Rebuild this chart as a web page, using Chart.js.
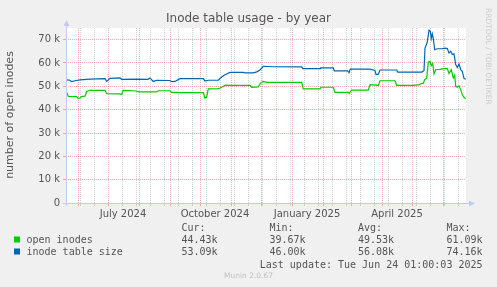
<!DOCTYPE html>
<html>
<head>
<meta charset="utf-8">
<title>Inode table usage - by year</title>
<script src="https://cdn.jsdelivr.net/npm/chart.js@4"></script>
<style>
body{margin:0;background:#f0f0f0}
canvas{display:block}
</style>
</head>
<body>
<canvas id="myChart" width="497" height="287"></canvas>
<script>
// days counted from May 20 2024 01:00, values in thousands
var openDays=[0.7,2.3,10.7,12.3,14,15.7,19,20.7,24,39,40.7,54,55.7,57.3,70.7,72.3,90.7,92.3,104,105.7,110.7,112.3,137.3,139,140.7,142.3,152.3,154,157.3,159.7,164,184,185.7,192.3,194.7,197.3,200.7,235.7,237.3,254,255,267.3,269,282.3,283.3,284.7,285.7,302.3,304,310.7,312.3,314,329,330.7,346.3,353,354.7,357.3,358.7,360.7,362.3,364,365.3,366.7,368,369.7,374,378,381.3,383,385.3,387.3,388.7,389.7,391.3,393,394.7,396.3,398,399.7]
var openValues=[47.4,45.7,45.6,44.8,45.0,45.7,45.8,47.8,48.3,48.3,46.9,46.8,46.5,48.3,48.0,47.6,47.6,48.1,48.1,47.4,47.4,47.3,47.3,44.9,45.5,48.9,49.0,49.3,50.0,50.5,50.4,50.4,49.6,49.8,51.5,52.1,51.7,51.7,48.9,48.9,49.6,49.6,47.4,47.4,46.9,48.0,48.4,48.4,50.7,50.5,50.3,52.4,52.4,50.4,50.4,50.6,51.1,51.3,52.9,53.5,60.4,60.6,58.9,59.8,55.3,57.1,57.3,57.6,57.6,55.5,57.1,53.6,54.8,50.0,49.6,50.2,48.6,46.4,45.3,44.6]

var sizeDays=[0.7,4,5.7,9,14,24,39,40.7,44,54,55.7,70.7,82,84,87.3,90.7,104,105.7,109,114,137.3,139,142.3,152.3,155.7,159,164,177.3,179,187.3,190.7,194,197.3,207.3,235.7,236.7,254,254.7,267.3,268.3,281.7,283,284.3,304,309,310,312.3,314,330.7,331.7,355.7,356.3,358,359,361.3,363,364.3,365.3,366.3,367.3,368.7,371.3,376.3,379.7,381.3,383,384.7,386.3,388,389.7,391.3,393,394.7,396.3,398,399.7]
var sizeValues=[52.8,52.6,52.0,52.4,52.8,53.1,53.3,52.1,53.4,53.6,53.0,53.1,53.0,53.6,52.1,52.6,52.5,52.0,52.1,53.3,53.3,52.3,52.6,52.7,54.0,55.0,56.0,56.0,55.8,55.8,56.2,57.0,58.6,58.4,58.3,57.6,57.6,57.9,57.9,56.6,56.6,55.8,57.4,57.4,56.8,55.0,55.2,57.0,57.0,56.1,56.1,56.2,56.8,66.4,69.0,74.1,73.6,70.5,72.5,70.5,65.7,66.1,66.2,66.4,66.2,64.3,65.0,63.6,63.9,59.3,58.1,59.6,57.1,56.4,53.3,53.1]

var monthStarts=[12,42,73,104,134,165,195,226,257,285,316,346,377]
var labelDays=[57,149,241,331]
var monthLabels=['July 2024','October 2024','January 2025','April 2025']

var seriesNames=['open inodes','inode table size']
var seriesColors=['#00cc00','#0066b3']
var statHeads=['Cur:','Min:','Avg:','Max:']
var openStats=['44.43k','39.67k','49.53k','61.09k']
var sizeStats=['53.09k','46.00k','56.08k','74.16k']
var lastUpdate='Last update: Tue Jun 24 01:00:03 2025'

var majorGrid='rgba(230,110,110,0.55)'
var minorGrid='rgba(190,190,190,0.7)'
var axisColor='#c4c9f2'

function points(days,vals){
  return days.map((d,i)=>({x:d,y:vals[i]*1000}))
}

var decorations={
  id:'decorations',
  beforeDraw(chart){
    var c=chart.ctx, a=chart.chartArea
    c.save()
    c.fillStyle='#ffffff'
    c.fillRect(a.left,a.top,a.right-a.left,a.bottom-a.top)
    c.restore()
  },
  afterDraw(chart){
    var c=chart.ctx, a=chart.chartArea
    c.save()
    // axes with arrows
    c.strokeStyle=axisColor
    c.fillStyle=axisColor
    c.lineWidth=1
    c.beginPath()
    c.moveTo(63,a.bottom+0.5); c.lineTo(470,a.bottom+0.5)
    c.moveTo(a.left+0.5,a.bottom+3); c.lineTo(a.left+0.5,25)
    c.stroke()
    c.beginPath()
    c.moveTo(469,a.bottom-2.5); c.lineTo(475,a.bottom+0.5); c.lineTo(469,a.bottom+3.5); c.fill()
    c.beginPath()
    c.moveTo(a.left-2.5,26); c.lineTo(a.left+0.5,20); c.lineTo(a.left+3.5,26); c.fill()

    c.fillStyle='#555'
    c.font='12px "DejaVu Sans"'
    c.textAlign='center'
    c.textBaseline='middle'
    c.fillText('Inode table usage - by year',248.5,19)

    c.save()
    c.translate(10,115)
    c.rotate(-Math.PI/2)
    c.font='11px "DejaVu Sans"'
    c.fillText('number of open inodes',0,0)
    c.restore()

    c.save()
    c.translate(488,8)
    c.rotate(Math.PI/2)
    c.textAlign='left'
    c.fillStyle='#cccccc'
    c.font='7.5px "DejaVu Sans"'
    c.fillText('RRDTOOL / TOBI OETIKER',0,0)
    c.restore()

    // legend and stats
    c.font='10px "DejaVu Sans Mono"'
    c.textAlign='left'
    c.textBaseline='alphabetic'
    var cols=[181.5,269.5,358,446.5]
    statHeads.forEach((h,i)=>c.fillText(h,cols[i],231))
    var rows=[openStats,sizeStats]
    rows.forEach((r,j)=>{
      var y=243+j*12
      c.fillStyle=seriesColors[j]
      c.fillRect(14,y-6.5,6,6)
      c.fillStyle='#555'
      c.fillText(seriesNames[j],26.5,y)
      r.forEach((v,i)=>c.fillText(v,cols[i],y))
    })
    c.textAlign='right'
    c.fillText(lastUpdate,482.5,267.5)

    c.textAlign='center'
    c.fillStyle='#c0c0c0'
    c.font='7.5px "DejaVu Sans"'
    c.fillText('Munin 2.0.67',248.5,278)
    c.restore()
  }
}

var ctx=document.getElementById('myChart').getContext('2d')
Chart.defaults.font.family='"DejaVu Sans"'

var chart=new Chart(ctx,{
  type:'line',
  data:{
    datasets:[
      {label:seriesNames[0],data:points(openDays,openValues),borderColor:seriesColors[0],borderWidth:1.2,pointRadius:0,tension:0,fill:false},
      {label:seriesNames[1],data:points(sizeDays,sizeValues),borderColor:seriesColors[1],borderWidth:1.2,pointRadius:0,tension:0,fill:false}
    ]
  },
  options:{
    responsive:false,
    animation:false,
    layout:{padding:{left:0,top:28,right:31,bottom:0}},
    plugins:{legend:{display:false},tooltip:{enabled:false},title:{display:false}},
    scales:{
      x:{
        type:'linear',min:0,max:400,
        afterFit(s){s.height=84},
        afterBuildTicks(s){
          var t=[]
          monthStarts.forEach(d=>t.push({value:d,kind:'major'}))
          for(var d=14;d<400;d+=14){
            if(monthStarts.indexOf(d)<0) t.push({value:d,kind:'minor'})
          }
          labelDays.forEach((d,i)=>t.push({value:d,kind:'label',text:monthLabels[i]}))
          t.sort((p,q)=>p.value-q.value)
          s.ticks=t
        },
        ticks:{
          autoSkip:false,maxRotation:0,padding:2,color:'#555',font:{size:10},
          callback:(v,i,ticks)=>ticks[i].text||''
        },
        grid:{
          tickLength:3,
          color:c=>c.tick.kind=='major'?majorGrid:(c.tick.kind=='minor'?minorGrid:'rgba(0,0,0,0)')
        },
        border:{display:false,dash:[1,1]}
      },
      y:{
        min:0,max:75000,
        afterFit(s){s.width=66},
        ticks:{
          stepSize:5000,padding:3,color:'#555',font:{size:10},
          callback:v=>v%10000?'':(v==0?'0':v/1000+' k')
        },
        grid:{
          tickLength:3,
          color:c=>c.tick.value%10000==0?majorGrid:minorGrid
        },
        border:{display:false,dash:[1,1]}
      }
    }
  },
  plugins:[decorations]
})
</script>
</body>
</html>
